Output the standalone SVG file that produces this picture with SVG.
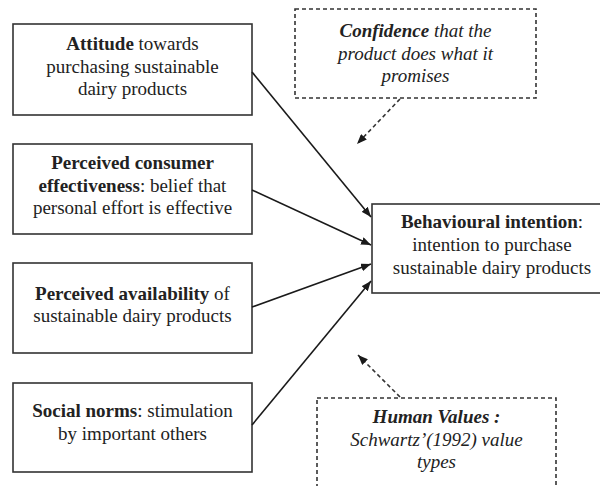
<svg xmlns="http://www.w3.org/2000/svg" width="600" height="486" viewBox="0 0 600 486">
<defs>
<marker id="ah" viewBox="0 0 10 8" refX="10" refY="4" markerWidth="10" markerHeight="8" markerUnits="userSpaceOnUse" orient="auto">
<path d="M0,0 L10,4 L0,8 Z" fill="#1a1a1a"/>
</marker>
</defs>
<style>
.box{fill:#fff;stroke:#333;stroke-width:1.6}
.dbox{fill:#fff;stroke:#333;stroke-width:1.6;stroke-dasharray:4 3}
.t{font-family:"Liberation Serif","Times New Roman",Times,"Nimbus Roman","Noto Serif",Tinos,FreeSerif,"DejaVu Serif",serif;font-size:19px;fill:#222;text-anchor:middle}
.i{font-style:italic}
.b{font-weight:bold}
.c{stroke:#1a1a1a;stroke-width:1.6;fill:none}
.dc{stroke:#333;stroke-width:1.6;fill:none;stroke-dasharray:4 3}
</style>
<rect width="600" height="486" fill="#fff"/>
<g id="attitude">
<rect class="box" x="13" y="24" width="239" height="91"/>
<text class="t" x="132.5" y="50"><tspan class="b">Attitude</tspan> towards</text>
<text class="t" x="132.5" y="73">purchasing sustainable</text>
<text class="t" x="132.5" y="95">dairy products</text>
</g>
<g id="effectiveness">
<rect class="box" x="13" y="144" width="239" height="90"/>
<text class="t" x="132.5" y="169"><tspan class="b">Perceived consumer</tspan></text>
<text class="t" x="132.5" y="192"><tspan class="b">effectiveness</tspan>: belief that</text>
<text class="t" x="132.5" y="214">personal effort is effective</text>
</g>
<g id="availability">
<rect class="box" x="13" y="263" width="239" height="90"/>
<text class="t" x="132.5" y="300"><tspan class="b">Perceived availability</tspan> of</text>
<text class="t" x="132.5" y="322">sustainable dairy products</text>
</g>
<g id="norms">
<rect class="box" x="13" y="383" width="239" height="89"/>
<text class="t" x="132.5" y="417"><tspan class="b">Social norms</tspan>: stimulation</text>
<text class="t" x="132.5" y="440">by important others</text>
</g>
<g id="confidence">
<rect class="dbox" x="295" y="9" width="241" height="89"/>
<text class="t i" x="415.5" y="37"><tspan class="b">Confidence</tspan> that the</text>
<text class="t i" x="415.5" y="60">product does what it</text>
<text class="t i" x="415.5" y="82">promises</text>
</g>
<g id="intention">
<rect class="box" x="372" y="204" width="240" height="89"/>
<text class="t" x="492" y="228"><tspan class="b">Behavioural intention</tspan>:</text>
<text class="t" x="492" y="251">intention to purchase</text>
<text class="t" x="492" y="274">sustainable dairy products</text>
</g>
<g id="values">
<rect class="dbox" x="317" y="398" width="239" height="100"/>
<text class="t i" x="436.5" y="423"><tspan class="b">Human Values :</tspan></text>
<text class="t i" x="436.5" y="446">Schwartz’(1992) value</text>
<text class="t i" x="436.5" y="468">types</text>
</g>
<g id="connectors">
<line class="c" x1="252" y1="72" x2="371" y2="217" marker-end="url(#ah)"/>
<line class="c" x1="252" y1="190" x2="371" y2="245" marker-end="url(#ah)"/>
<line class="c" x1="252" y1="307" x2="371" y2="264" marker-end="url(#ah)"/>
<line class="c" x1="252" y1="425" x2="371" y2="281" marker-end="url(#ah)"/>
<line class="dc" x1="400" y1="99" x2="357" y2="144" marker-end="url(#ah)"/>
<line class="dc" x1="400" y1="397" x2="358" y2="355" marker-end="url(#ah)"/>
</g>
</svg>
